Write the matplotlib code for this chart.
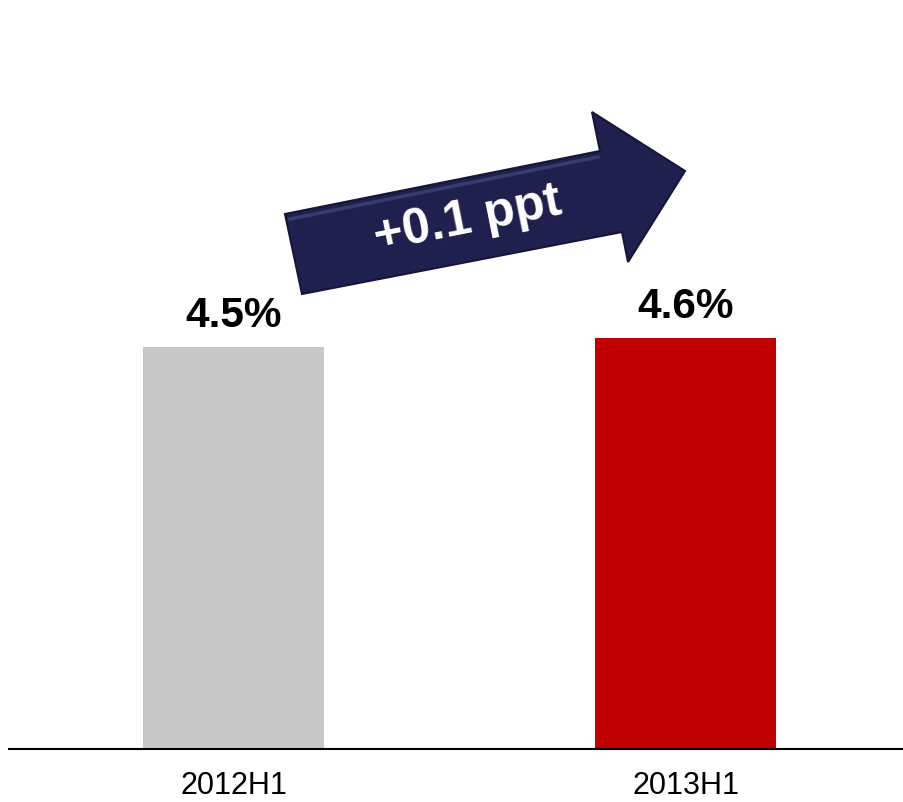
import matplotlib
matplotlib.use("Agg")
import matplotlib.pyplot as plt
from matplotlib.patches import Polygon

categories = ["2012H1", "2013H1"]
values = [4.5, 4.6]
labels = ["4.5%", "4.6%"]
colors = ["#C8C8C8", "#C00000"]
change_label = "+0.1 ppt"

W, H = 904, 803
fig = plt.figure(figsize=(W / 100, H / 100), dpi=100)
plt.rcParams['font.family'] = ['Liberation Sans', 'DejaVu Sans']

ax = fig.add_axes([9 / W, 53 / H, (W - 9) / W, 750 / H])
x = list(range(len(categories)))
ax.bar(x, values, width=0.40, color=colors)
ax.set_xlim(-0.4967, 1.4834)
ax.set_ylim(0, 8.396)
for xi, v, lab in zip(x, values, labels):
    ax.annotate(lab, (xi, v), xytext=(0, 9), textcoords="offset points",
                ha="center", va="bottom", fontsize=30.5, fontweight="bold")
ax.set_xticks(x)
ax.set_xticklabels(categories, fontsize=22)
ax.tick_params(axis="x", length=0, pad=15)
ax.set_yticks([])
for s in ["top", "left", "right"]:
    ax.spines[s].set_visible(False)
ax.spines["bottom"].set_linewidth(1.5)

# decorative arrow (pixel coords from top-left)
pts = [(285, 215), (600, 152), (592, 113), (685, 172), (628, 263), (622, 233), (302, 295)]
fpts = [(px / W, 1 - py / H) for px, py in pts]
fig.patches.append(Polygon(fpts, closed=True, transform=fig.transFigure,
                           facecolor="#20204F", edgecolor="#15153A", linewidth=1.5))
hl = [(290, 220), (598, 158)]
fig.lines.append(plt.Line2D([p[0] / W for p in hl], [1 - p[1] / H for p in hl],
                            transform=fig.transFigure, color="#3A3A6E", linewidth=2.5))
fig.text(468 / W, 1 - 220 / H, change_label, rotation=11.3, rotation_mode="anchor",
         ha="center", va="center", color="white", fontsize=36, fontweight="bold")

fig.savefig("out.png", dpi=100)
